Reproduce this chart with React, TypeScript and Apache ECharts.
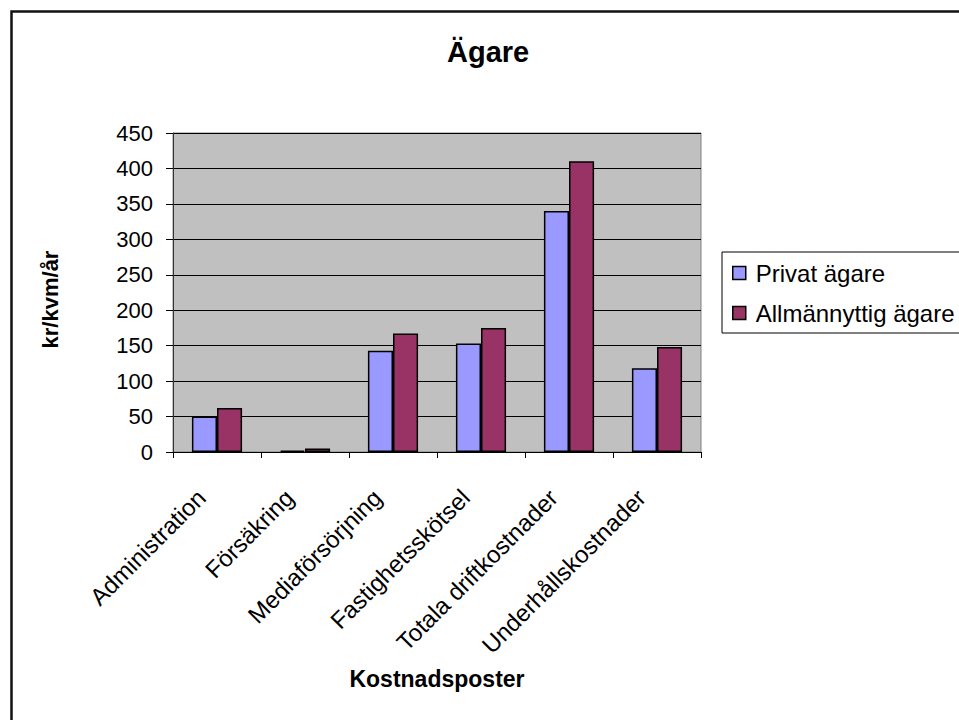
import React, { useEffect, useRef } from "react";
import * as echarts from "echarts";

const categories = [
  "Administration",
  "Försäkring",
  "Mediaförsörjning",
  "Fastighetsskötsel",
  "Totala driftkostnader",
  "Underhållskostnader",
];
const privatAgare = [50, 2, 143, 153, 340, 118];
const allmannyttigAgare = [62, 5, 167, 175, 410, 148];

const FONT = "'Liberation Sans', Arial, sans-serif";

export default function App() {
  const ref = useRef<HTMLDivElement>(null);

  useEffect(() => {
    document.body.style.margin = "0";
    const chart = echarts.init(ref.current!, null, { renderer: "svg" });
    chart.setOption({
      animation: false,
      backgroundColor: "#ffffff",
      textStyle: { fontFamily: FONT, color: "#000" },
      title: {
        text: "Ägare",
        left: 447,
        top: 37,
        padding: 0,
        textStyle: { fontFamily: FONT, fontSize: 29, fontWeight: "bold", color: "#000" },
      },
      legend: {
        orient: "vertical",
        left: 722,
        top: 252,
        padding: [9, 30, 8, 10],
        itemGap: 16,
        itemWidth: 13,
        itemHeight: 13,
        borderColor: "#000",
        borderWidth: 1,
        icon: "rect",
        itemStyle: { borderColor: "#000", borderWidth: 1.5 },
        textStyle: { fontFamily: FONT, fontSize: 24, color: "#000", padding: [0, 0, 0, 5] },
        data: ["Privat ägare", "Allmännyttig ägare"],
      },
      grid: {
        left: 173,
        top: 133,
        width: 528,
        height: 319,
        show: true,
        backgroundColor: "#c0c0c0",
        borderColor: "#808080",
        borderWidth: 1,
        containLabel: false,
      },
      xAxis: {
        type: "category",
        data: categories,
        name: "Kostnadsposter",
        nameLocation: "middle",
        nameGap: 215,
        nameTextStyle: { fontFamily: FONT, fontSize: 23, fontWeight: "bold", color: "#000" },
        axisLine: { lineStyle: { color: "#000", width: 1 } },
        axisTick: { show: true, alignWithLabel: false, length: 6, lineStyle: { color: "#000" } },
        axisLabel: {
          rotate: 45,
          margin: 26,
          interval: 0,
          padding: [0, 22, 0, 0],
          fontFamily: FONT,
          fontSize: 24,
          color: "#000",
        },
      },
      yAxis: {
        type: "value",
        min: 0,
        max: 450,
        interval: 50,
        name: "kr/kvm/år",
        nameLocation: "middle",
        nameGap: 112,
        nameRotate: 90,
        nameTextStyle: {
          fontFamily: FONT,
          fontSize: 22,
          fontWeight: "bold",
          color: "#000",
          padding: [0, 14, 0, 0],
        },
        axisLine: { show: true, lineStyle: { color: "#333", width: 1 } },
        axisTick: { show: true, inside: false, length: 7, lineStyle: { color: "#000" } },
        axisLabel: { margin: 20, fontFamily: FONT, fontSize: 22, color: "#000" },
        splitLine: { show: true, lineStyle: { color: "#000", width: 1 } },
      },
      series: [
        {
          name: "Privat ägare",
          type: "bar",
          data: privatAgare,
          barGap: "0%",
          barCategoryGap: "43%",
          itemStyle: { color: "#9999ff", borderColor: "#000", borderWidth: 1.5 },
        },
        {
          name: "Allmännyttig ägare",
          type: "bar",
          data: allmannyttigAgare,
          barGap: "0%",
          barCategoryGap: "43%",
          itemStyle: { color: "#993366", borderColor: "#000", borderWidth: 1.5 },
        },
      ],
      graphic: [
        {
          type: "rect",
          left: 9,
          top: 9,
          shape: { x: 0, y: 0, width: 1000, height: 800 },
          style: { fill: "none", stroke: "#111", lineWidth: 2.5 },
          silent: true,
          z: 100,
        },
      ],
    });
    return () => chart.dispose();
  }, []);

  return (
    <div
      ref={ref}
      style={{ position: "fixed", left: 0, top: 0, width: 959, height: 720 }}
    />
  );
}
